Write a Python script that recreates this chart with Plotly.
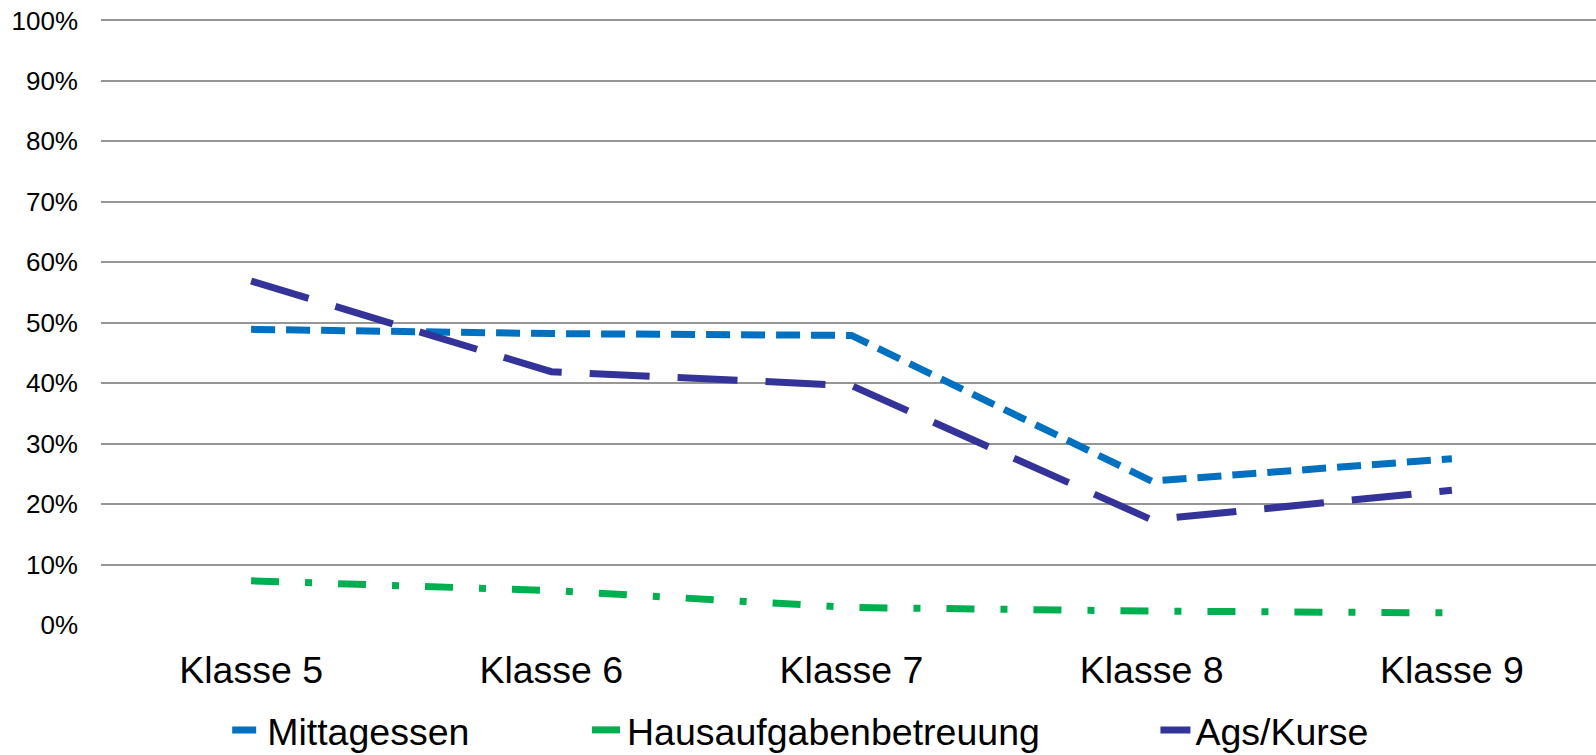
import plotly.graph_objects as go

categories = ["Klasse 5", "Klasse 6", "Klasse 7", "Klasse 8", "Klasse 9"]
mittagessen = [48.9, 48.2, 47.9, 23.8, 27.5]
hausaufgaben = [7.3, 5.7, 2.9, 2.3, 2.0]
ags_kurse = [56.9, 41.9, 39.6, 17.4, 22.3]
y_ticks = [0, 10, 20, 30, 40, 50, 60, 70, 80, 90, 100]
y_tick_labels = [f"{v}%" for v in y_ticks]

FONT = "Arial, Liberation Sans, sans-serif"

fig = go.Figure()
fig.add_trace(go.Scatter(
    x=categories, y=mittagessen, name="Mittagessen", mode="lines",
    line=dict(color="#0070C0", width=7, dash="24px,11px"),
    legend="legend",
))
fig.add_trace(go.Scatter(
    x=categories, y=hausaufgaben, name="Hausaufgabenbetreuung", mode="lines",
    line=dict(color="#00B050", width=7, dash="28px,26px,7px,26px"),
    legend="legend2",
))
fig.add_trace(go.Scatter(
    x=categories, y=ags_kurse, name="Ags/Kurse", mode="lines",
    line=dict(color="#333399", width=7, dash="60px,28px"),
    legend="legend3",
))

leg_common = dict(
    orientation="h", xanchor="left", y=-0.173, yanchor="middle",
    font=dict(size=37.5, family=FONT, color="#000000"),
    bgcolor="rgba(0,0,0,0)",
)

fig.update_layout(
    width=1596, height=755,
    margin=dict(l=101, r=0, t=18, b=130, autoexpand=False),
    paper_bgcolor="white", plot_bgcolor="white",
    font=dict(family=FONT, color="#000000"),
    showlegend=True,
    legend=dict(x=0.0844, **leg_common),
    legend2=dict(x=0.3251, **leg_common),
    legend3=dict(x=0.7053, **leg_common),
    xaxis=dict(
        type="category", range=[-0.5, 4.48], automargin=False,
        showgrid=False, zeroline=False, showline=False, ticks="",
        tickfont=dict(size=37.5, family=FONT, color="#000000"),
        ticklabelstandoff=19,
    ),
    yaxis=dict(
        range=[0, 100.4], tickvals=y_ticks, ticktext=y_tick_labels,
        automargin=False, ticklabeloverflow="allow",
        showgrid=True, gridcolor="#969696", gridwidth=1.6,
        zeroline=False, showline=False, ticks="",
        tickfont=dict(size=26, family=FONT, color="#000000"),
        ticklabelstandoff=22,
    ),
)

fig.write_html(
    "out.html",
    config={"displayModeBar": False},
    post_script="document.body.style.margin='0';document.body.style.overflow='hidden';",
)
